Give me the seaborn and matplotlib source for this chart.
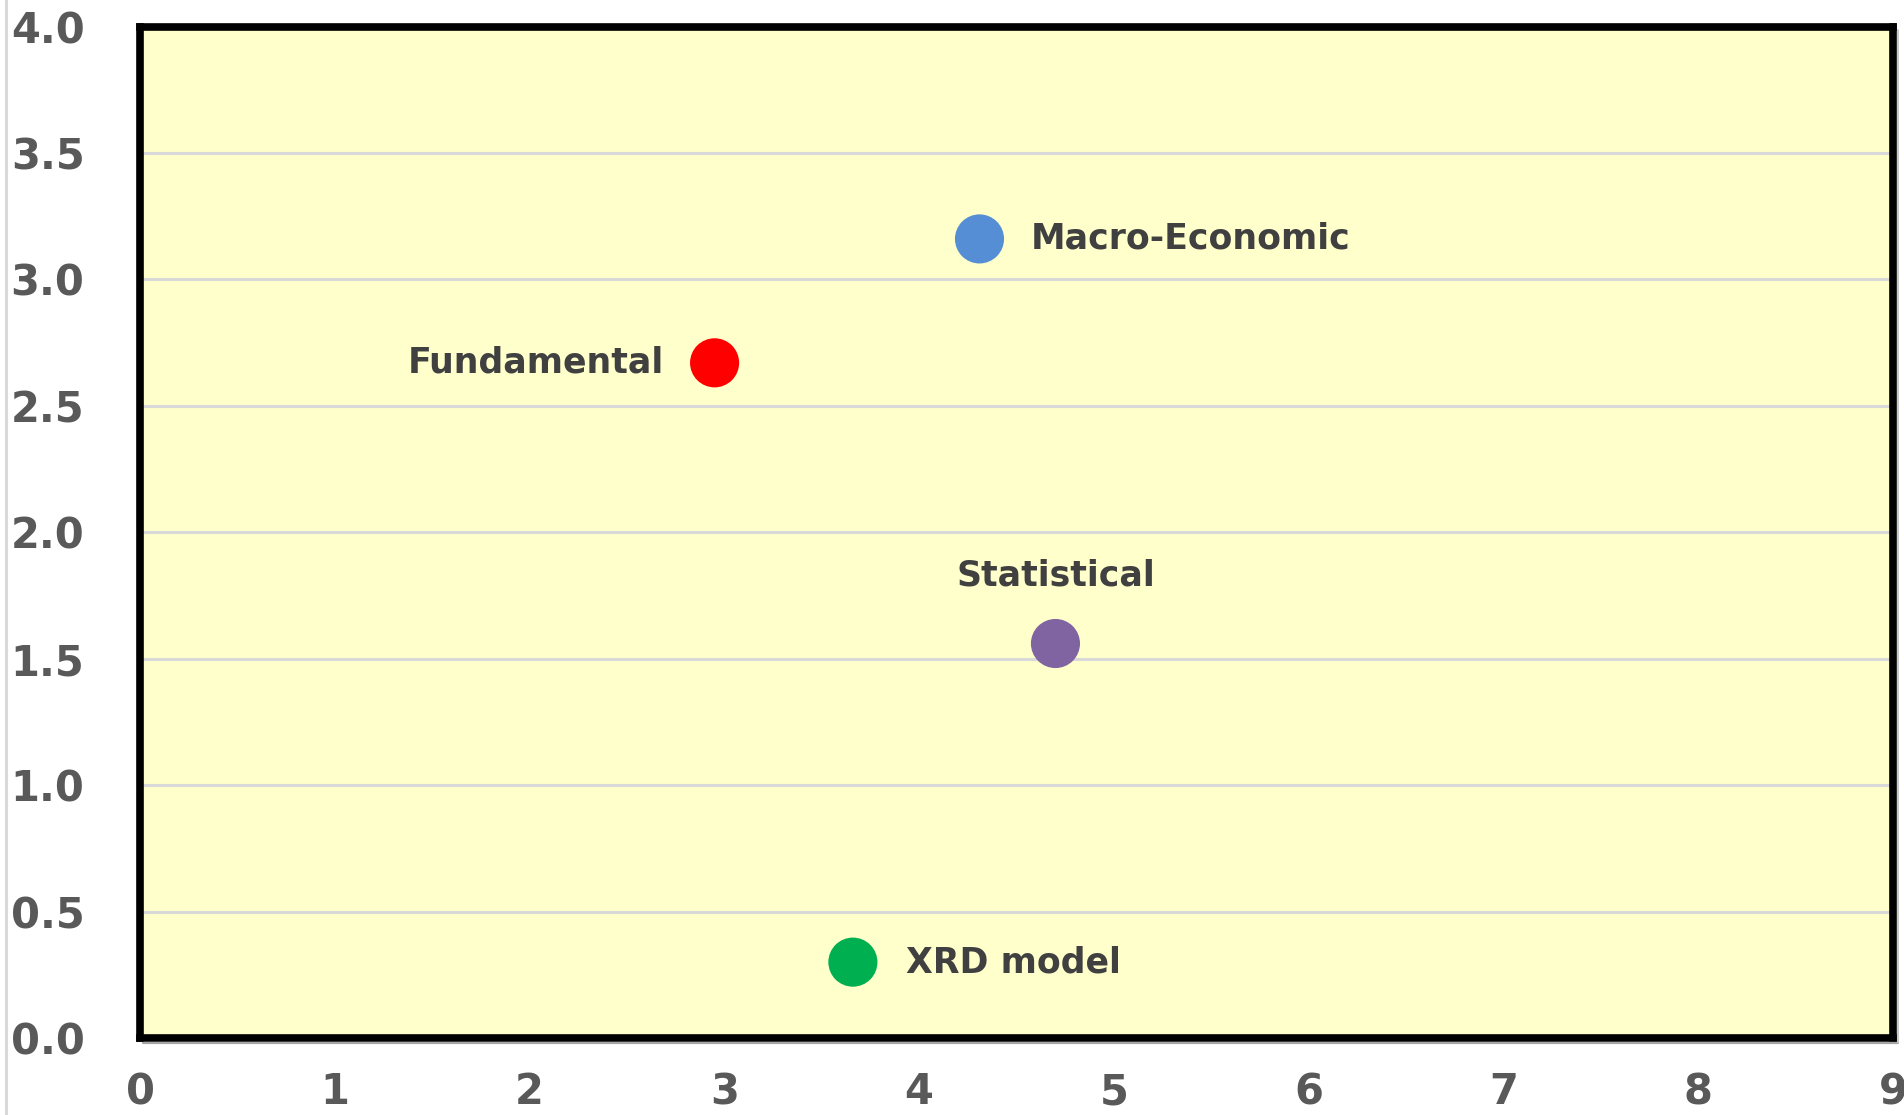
import matplotlib
matplotlib.use("Agg")
import matplotlib.pyplot as plt
import seaborn as sns
import pandas as pd
from matplotlib.lines import Line2D

# ---- data ----
models = ["Macro-Economic", "Fundamental", "Statistical", "XRD model"]
x_vals = [4.31, 2.95, 4.70, 3.66]
y_vals = [3.16, 2.67, 1.56, 0.30]
colors = ["#558ED5", "#FF0000", "#8064A2", "#00B050"]
x_ticks = [0, 1, 2, 3, 4, 5, 6, 7, 8, 9]
y_ticks = [0.0, 0.5, 1.0, 1.5, 2.0, 2.5, 3.0, 3.5, 4.0]
y_tick_labels = ["0.0", "0.5", "1.0", "1.5", "2.0", "2.5", "3.0", "3.5", "4.0"]

df = pd.DataFrame({"model": models, "x": x_vals, "y": y_vals})

sns.set_theme(style="white")
plt.rcParams["font.family"] = ["DejaVu Sans"]

W, H = 1904, 1115
fig = plt.figure(figsize=(W / 100, H / 100), dpi=100)
fig.patch.set_facecolor("white")
ax = fig.add_axes([140 / W, 1 - 1038 / H, 1753 / W, (1038 - 26.5) / H])
ax.set_facecolor("#FFFFCC")

# light grey vertical line at far left of the chart area
fig.add_artist(Line2D([6 / W, 6 / W], [0, 1], transform=fig.transFigure,
                      color="#D9D9D9", linewidth=2.2))
# subtle shadow under the plot frame
fig.add_artist(Line2D([143 / W, 1898 / W], [1 - 1043 / H, 1 - 1043 / H],
                      transform=fig.transFigure, color="#A6A6A6", linewidth=1.6))
fig.add_artist(Line2D([1898 / W, 1898 / W], [1 - 1043 / H, 1 - 30 / H],
                      transform=fig.transFigure, color="#BFBFBF", linewidth=1.2))

ax.set_xlim(0, 9)
ax.set_ylim(0, 4)
ax.set_yticks(y_ticks)
ax.set_yticklabels(y_tick_labels)
ax.set_xticks(x_ticks)
ax.yaxis.grid(True, color="#D9D9D9", linewidth=2.2)
ax.xaxis.grid(False)
ax.set_axisbelow(True)

sns.scatterplot(data=df, x="x", y="y", hue="model", palette=colors,
                hue_order=models, s=1250, edgecolor="none", legend=False,
                ax=ax, zorder=3)

for sp in ax.spines.values():
    sp.set_visible(True)
    sp.set_color("black")
    sp.set_linewidth(5.5)

ax.tick_params(axis="both", length=0, labelcolor="#595959", labelsize=30)
ax.tick_params(axis="y", pad=40)
ax.tick_params(axis="x", pad=24)
for lab in ax.get_xticklabels() + ax.get_yticklabels():
    lab.set_fontweight("bold")
ax.set_xlabel("")
ax.set_ylabel("")

label_kw = dict(textcoords="offset pixels", fontsize=25, fontweight="bold",
                color="#404040", va="center")
offsets = {
    "Macro-Economic": ((51, 0), "left"),
    "Fundamental": ((-51, 0), "right"),
    "Statistical": ((0, 68), "center"),
    "XRD model": ((53, 0), "left"),
}
for m, xv, yv in zip(models, x_vals, y_vals):
    off, ha = offsets[m]
    ax.annotate(m, (xv, yv), xytext=off, ha=ha, **label_kw)

fig.savefig("out.png", dpi=100)
